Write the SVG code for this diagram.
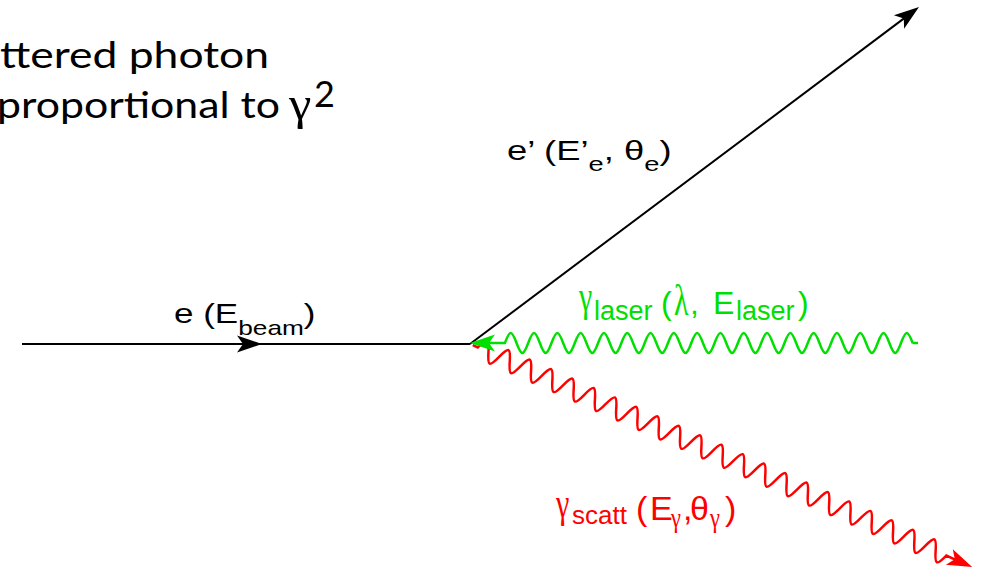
<svg xmlns="http://www.w3.org/2000/svg" width="984" height="571" viewBox="0 0 984 571">
<style>
.cal{font-family:Lato,"Open Sans","Liberation Sans",sans-serif;font-size:36px;fill:#000}
.lbl{font-family:"Liberation Sans",Arial,sans-serif}
.gr{font-family:"Liberation Serif","DejaVu Serif",serif}
.blk{stroke:#000;stroke-width:2;fill:none}
.grn{stroke:#00e000;stroke-width:2.5;fill:none}
.red{stroke:#ff0000;stroke-width:2.5;fill:none}
</style>
<defs>
<path id="ah" d="M0,0 L-25,-8.5 L-19,0 L-25,8.5 Z"/>
</defs>
<rect width="984" height="571" fill="#fff"/>
<g id="caption">
<text class="cal" x="0" y="68" textLength="269" lengthAdjust="spacingAndGlyphs">ttered photon</text>
<text class="cal" x="-3" y="118" textLength="283" lengthAdjust="spacingAndGlyphs">proportional to</text>
<text class="gr" font-size="46" transform="translate(289,119) scale(1.1,1)">γ</text>
<text class="cal" x="314" y="107" font-size="19">2</text>
</g>
<g id="connectors">
<g id="electron-in">
<line class="blk" x1="22" y1="344" x2="470" y2="344"/>
<use href="#ah" fill="#000" transform="translate(262,344)"/>
</g>
<g id="electron-out">
<line class="blk" x1="470" y1="344" x2="904" y2="18.4"/>
<use href="#ah" fill="#000" transform="translate(919,7) rotate(-36.9)"/>
</g>
<g id="scattered-photon" transform="translate(470,344) rotate(23.95)">
<path class="red" d="M3,0 L8.55,0 c4.944,-13.33 6.706,-13.33 11.65,0 s6.706,13.33 11.65,0 s6.706,-13.33 11.65,0 s6.706,13.33 11.65,0 s6.706,-13.33 11.65,0 s6.706,13.33 11.65,0 s6.706,-13.33 11.65,0 s6.706,13.33 11.65,0 s6.706,-13.33 11.65,0 s6.706,13.33 11.65,0 s6.706,-13.33 11.65,0 s6.706,13.33 11.65,0 s6.706,-13.33 11.65,0 s6.706,13.33 11.65,0 s6.706,-13.33 11.65,0 s6.706,13.33 11.65,0 s6.706,-13.33 11.65,0 s6.706,13.33 11.65,0 s6.706,-13.33 11.65,0 s6.706,13.33 11.65,0 s6.706,-13.33 11.65,0 s6.706,13.33 11.65,0 s6.706,-13.33 11.65,0 s6.706,13.33 11.65,0 s6.706,-13.33 11.65,0 s6.706,13.33 11.65,0 s6.706,-13.33 11.65,0 s6.706,13.33 11.65,0 s6.706,-13.33 11.65,0 s6.706,13.33 11.65,0 s6.706,-13.33 11.65,0 s6.706,13.33 11.65,0 s6.706,-13.33 11.65,0 s6.706,13.33 11.65,0 s6.706,-13.33 11.65,0 s6.706,13.33 11.65,0 s6.706,-13.33 11.65,0 s6.706,13.33 11.65,0 s6.706,-13.33 11.65,0 s6.706,13.33 11.65,0 s6.706,-13.33 11.65,0 s6.706,13.33 11.65,0 s6.706,-13.33 11.65,0 s6.706,13.33 11.65,0 L531,0"/>
<use href="#ah" fill="#ff0000" transform="translate(549.5,0)"/>
</g>
<g id="laser-photon">
<path class="grn" d="M918,343 L912.65,343 M489,343 L504.9,343 c4.944,-13.33 6.706,-13.33 11.65,0 s6.706,13.33 11.65,0 s6.706,-13.33 11.65,0 s6.706,13.33 11.65,0 s6.706,-13.33 11.65,0 s6.706,13.33 11.65,0 s6.706,-13.33 11.65,0 s6.706,13.33 11.65,0 s6.706,-13.33 11.65,0 s6.706,13.33 11.65,0 s6.706,-13.33 11.65,0 s6.706,13.33 11.65,0 s6.706,-13.33 11.65,0 s6.706,13.33 11.65,0 s6.706,-13.33 11.65,0 s6.706,13.33 11.65,0 s6.706,-13.33 11.65,0 s6.706,13.33 11.65,0 s6.706,-13.33 11.65,0 s6.706,13.33 11.65,0 s6.706,-13.33 11.65,0 s6.706,13.33 11.65,0 s6.706,-13.33 11.65,0 s6.706,13.33 11.65,0 s6.706,-13.33 11.65,0 s6.706,13.33 11.65,0 s6.706,-13.33 11.65,0 s6.706,13.33 11.65,0 s6.706,-13.33 11.65,0 s6.706,13.33 11.65,0 s6.706,-13.33 11.65,0 s6.706,13.33 11.65,0 s6.706,-13.33 11.65,0 s6.706,13.33 11.65,0 s6.706,-13.33 11.65,0"/>
<use href="#ah" fill="#00e000" transform="translate(470,343) rotate(180)"/>
</g>
</g>
<g id="labels">
<g id="label-beam">
<text class="lbl" font-size="28" transform="translate(174,323) scale(1.25,1)">e (E<tspan font-size="21" dy="12">beam</tspan><tspan dy="-12">)</tspan></text>
</g>
<g id="label-eprime">
<text class="lbl" font-size="28" transform="translate(507,160) scale(1.3,1)">e’ (E’<tspan font-size="21" dy="11">e</tspan><tspan dy="-11">, θ</tspan><tspan font-size="21" dy="11">e</tspan><tspan dy="-11">)</tspan></text>
</g>
<g id="label-laser" fill="#00e000">
<text class="gr" font-size="44" transform="translate(579,311) scale(0.68,1)">γ</text>
<text class="lbl" font-size="32"><tspan x="594" y="320" font-size="27">laser</tspan><tspan x="661" y="314">(</tspan><tspan x="690" y="314">,</tspan><tspan x="713" y="314">E</tspan><tspan x="736" y="320" font-size="27">laser</tspan><tspan x="798" y="314">)</tspan></text>
<text class="gr" font-size="44" transform="translate(674,315) scale(0.68,1)">λ</text>
</g>
<g id="label-scatt" fill="#ff0000">
<text class="gr" font-size="42" transform="translate(556,517) scale(0.72,1)">γ</text>
<text class="lbl" font-size="34"><tspan x="572" y="524" font-size="26">scatt</tspan><tspan x="636" y="520">(</tspan><tspan x="650" y="520">E</tspan><tspan x="683" y="520">,</tspan><tspan x="690" y="520">θ</tspan><tspan x="725" y="520">)</tspan></text>
<text class="gr" font-size="28" transform="translate(671,527) scale(0.8,1)">γ</text>
<text class="gr" font-size="28" transform="translate(710,527) scale(0.8,1)">γ</text>
</g>
</g>
</svg>
